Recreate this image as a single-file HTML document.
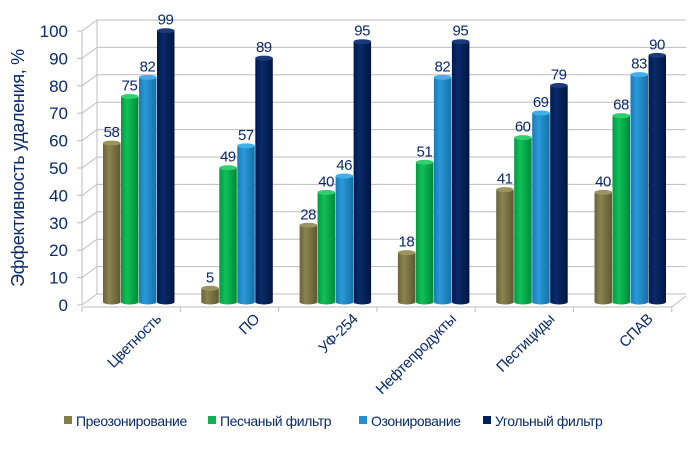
<!DOCTYPE html>
<html><head><meta charset="utf-8"><style>
html,body{margin:0;padding:0;background:#fff}
svg{display:block;font-family:"Liberation Sans",sans-serif}
</style></head><body>
<svg width="700" height="457" viewBox="0 0 700 457" xmlns="http://www.w3.org/2000/svg">
<defs>
<linearGradient id="g0" x1="0" x2="1"><stop offset="0" stop-color="#6a6438"/><stop offset="0.35" stop-color="#8a8450"/><stop offset="1" stop-color="#5e5830"/></linearGradient>
<linearGradient id="g1" x1="0" x2="1"><stop offset="0" stop-color="#009a40"/><stop offset="0.35" stop-color="#10c058"/><stop offset="1" stop-color="#008a38"/></linearGradient>
<linearGradient id="g2" x1="0" x2="1"><stop offset="0" stop-color="#1a7ab8"/><stop offset="0.35" stop-color="#2a9ad8"/><stop offset="1" stop-color="#1670a8"/></linearGradient>
<linearGradient id="g3" x1="0" x2="1"><stop offset="0" stop-color="#001a50"/><stop offset="0.35" stop-color="#0a2a6a"/><stop offset="1" stop-color="#001640"/></linearGradient>
</defs>
<g id="grid" stroke="#bdbdbd" stroke-width="1" fill="none"></g>
<g id="bars"></g>
<g id="txt" fill="#0a2a6a"></g>
<text transform="translate(24,168) rotate(-90)" text-anchor="middle" font-size="18" letter-spacing="-0.3" fill="#0a2a6a">Эффективность  удаления, %</text>
<g font-size="14" fill="#0a2a6a" letter-spacing="-0.4">
<rect x="64" y="416" width="8" height="8" fill="#847c48"/><text x="76" y="426">Преозонирование</text>
<rect x="208" y="416" width="8" height="8" fill="#10b050"/><text x="220" y="426">Песчаный фильтр</text>
<rect x="359" y="416" width="8" height="8" fill="#2090d0"/><text x="371" y="426">Озонирование</text>
<rect x="483" y="416" width="8" height="8" fill="#00205e"/><text x="495" y="426">Угольный фильтр</text>
</g>
<script>
var ns="http://www.w3.org/2000/svg";
function el(p,t,a,txt){var e=document.createElementNS(ns,t);for(var k in a)e.setAttribute(k,a[k]);if(txt!==undefined)e.textContent=txt;document.getElementById(p).appendChild(e);return e;}
for(var i=0;i<=10;i++){var yf=305-i*27.4,yb=yf-11;
 el("grid","polyline",{points:"82,"+yf+" 97,"+yb+" 686,"+yb});
 el("txt","text",{x:68,y:yf+6,"text-anchor":"end","font-size":"17"},String(i*10));
 el("grid","line",{x1:77,y1:yf,x2:82,y2:yf});}
el("grid","line",{x1:82,y1:305,x2:82,y2:31});
el("grid","line",{x1:97,y1:294,x2:97,y2:20});
el("grid","polyline",{points:"82,307 672,307 686,296"});
for(var i=0;i<=6;i++){var x=82+i*98.3;el("grid","line",{x1:x,y1:307,x2:x,y2:312});}
var cats=["Цветность","ПО","УФ-254","Нефтепродукты","Пестициды","СПАВ"];
var vals=[[58,75,82,99],[5,49,57,89],[28,40,46,95],[18,51,82,95],[41,60,69,79],[40,68,83,90]];
var tops=["#9a9460","#30d070","#40b0e8","#1a3a7a"];
for(var c=0;c<6;c++){var g=82+c*98.3;
 for(var s=0;s<4;s++){var x=g+21+s*18,v=vals[c][s],y=302-v*2.74;
  el("bars","rect",{x:x,y:y,width:17.5,height:302-y,fill:"url(#g"+s+")"});
  el("bars","ellipse",{cx:x+8.75,cy:302,rx:8.75,ry:2.5,fill:"url(#g"+s+")"});
  el("bars","ellipse",{cx:x+8.75,cy:y,rx:8.75,ry:2.5,fill:tops[s]});
  el("txt","text",{x:x+8.5,y:y-6,"text-anchor":"middle","font-size":"15","letter-spacing":"-0.5"},String(v));}
 var lx=g+80,ly=320;
 el("txt","text",{x:lx,y:ly,"text-anchor":"end","font-size":"15","letter-spacing":"-0.4",transform:"rotate(-45 "+lx+" "+ly+")"},cats[c]);}
</script>
</svg>
</body></html>
